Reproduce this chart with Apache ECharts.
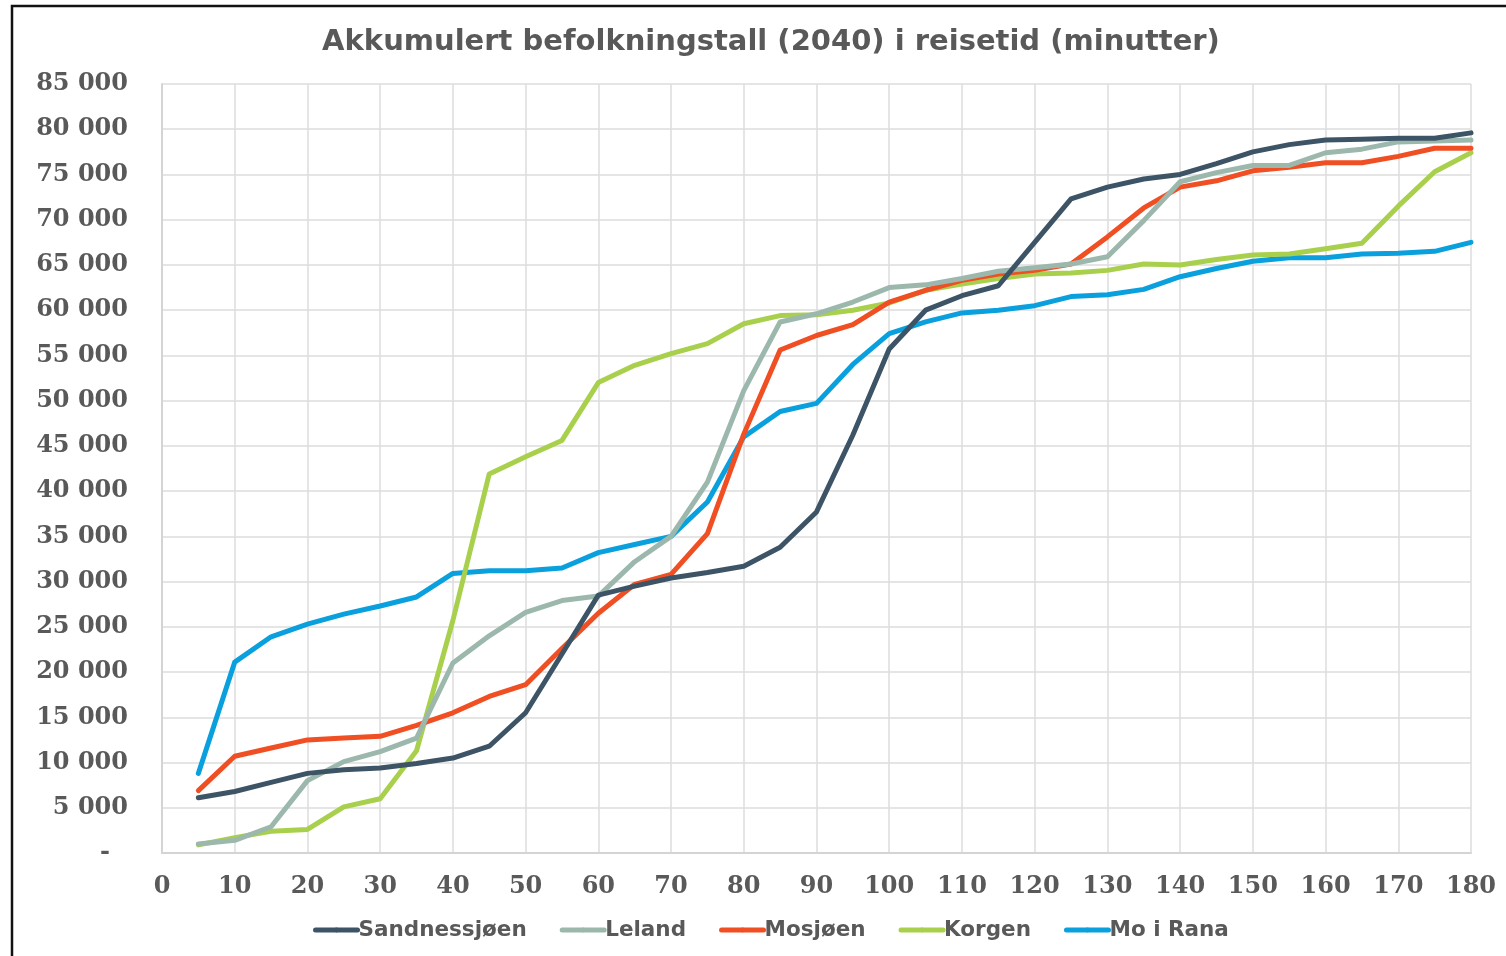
<!DOCTYPE html>
<html>
<head>
<meta charset="utf-8">
<script src="https://cdn.jsdelivr.net/npm/echarts@6/dist/echarts.min.js"></script>
<style>
html,body{margin:0;padding:0;background:#fff;}
#chart{width:1506px;height:956px;}
</style>
</head>
<body>
<div id="chart"></div>
<script>
const minutes = [5,10,15,20,25,30,35,40,45,50,55,60,65,70,75,80,85,90,95,100,105,110,115,120,125,130,135,140,145,150,155,160,165,170,175,180];
const seriesNames = ['Sandnessjøen','Leland','Mosjøen','Korgen','Mo i Rana'];
const sandnessjoen = [6100,6800,7800,8800,9200,9400,9900,10500,11800,15500,22000,28500,29500,30400,31000,31700,33800,37700,46200,55700,60000,61600,62700,67500,72300,73600,74500,75000,76200,77500,78300,78800,78900,79000,79000,79600];
const leland = [1000,1400,2900,8000,10100,11200,12700,21000,24000,26600,27900,28400,32200,35000,41000,51100,58700,59600,60900,62500,62800,63500,64300,64700,65100,65900,69900,74200,75200,76000,76000,77400,77800,78600,78700,78800];
const mosjoen = [6900,10700,11600,12500,12700,12900,14100,15500,17300,18600,22600,26500,29700,30800,35300,46300,55600,57200,58400,60900,62200,63300,64000,64400,65100,68100,71300,73600,74300,75400,75800,76300,76300,77000,77900,77900];
const korgen = [900,1700,2400,2600,5100,6000,11300,25700,41900,43800,45600,52000,53900,55200,56300,58500,59400,59500,60000,60800,62200,62900,63500,64000,64100,64400,65100,65000,65600,66100,66200,66800,67400,71500,75300,77400];
const moIRana = [8800,21100,23900,25300,26400,27300,28300,30900,31200,31200,31500,33200,34100,35000,38800,46000,48800,49700,54000,57400,58700,59700,60000,60500,61500,61700,62300,63700,64600,65400,65800,65800,66200,66300,66500,67500];
const colors = ['#3d5466','#9cb8ad','#f04e23','#a9d04c','#0aa0dd'];
const allValues = [sandnessjoen, leland, mosjoen, korgen, moIRana];

const chart = echarts.init(document.getElementById('chart'));
const labelColor = '#595959';
const series = seriesNames.map((name, i) => ({
  name: name,
  type: 'line',
  data: minutes.map((m, j) => [m, allValues[i][j]]),
  showSymbol: false,
  symbol: 'none',
  lineStyle: {width: 5, color: colors[i], cap: 'round', join: 'round'},
  itemStyle: {color: colors[i]},
  z: 10 - i
}));

chart.setOption({
  animation: false,
  backgroundColor: '#fff',
  graphic: [{
    type: 'rect',
    shape: {x: 12, y: 6, width: 1600, height: 1000},
    style: {fill: 'none', stroke: '#111', lineWidth: 2.5},
    silent: true
  }],
  title: {
    text: 'Akkumulert befolkningstall (2040) i reisetid (minutter)',
    left: 766, top: 23, textAlign: 'center',
    textStyle: {fontFamily: 'DejaVu Sans', fontWeight: 'bold', fontSize: 29, color: labelColor}
  },
  grid: {left: 162, right: 35, top: 84, bottom: 103, containLabel: false},
  legend: {
    data: seriesNames,
    bottom: 10, left: 308,
    itemWidth: 42, itemHeight: 6,
    itemGap: 33,
    lineStyle: {width: 5, cap: 'round'},
    textStyle: {fontFamily: 'DejaVu Sans', fontWeight: 'bold', fontSize: 21.5, color: labelColor, padding: [0,0,0,-4]}
  },
  xAxis: {
    type: 'value', min: 0, max: 180, interval: 10,
    axisLine: {show: true, lineStyle: {color: '#d4d4d4', width: 2}},
    axisTick: {show: false},
    splitLine: {show: true, lineStyle: {color: '#dcdcdc', width: 1.5}},
    axisLabel: {margin: 22, fontFamily: 'DejaVu Serif', fontWeight: 'bold', fontSize: 24, color: labelColor}
  },
  yAxis: {
    type: 'value', min: 0, max: 85000, interval: 5000,
    axisLine: {show: true, lineStyle: {color: '#d4d4d4', width: 2}},
    axisTick: {show: false},
    splitLine: {show: true, lineStyle: {color: '#dcdcdc', width: 1.5}},
    axisLabel: {
      margin: 34, fontFamily: 'DejaVu Serif', fontWeight: 'bold', fontSize: 24, color: labelColor,
      formatter: v => v === 0 ? '{z|-}' : String(v).replace(/\B(?=(\d{3})+(?!\d))/g, ' '),
      rich: {z: {fontFamily: 'DejaVu Serif', fontWeight: 'bold', fontSize: 24, color: labelColor, padding: [0, 18, 0, 0]}}
    }
  },
  series: series
});
</script>
</body>
</html>
